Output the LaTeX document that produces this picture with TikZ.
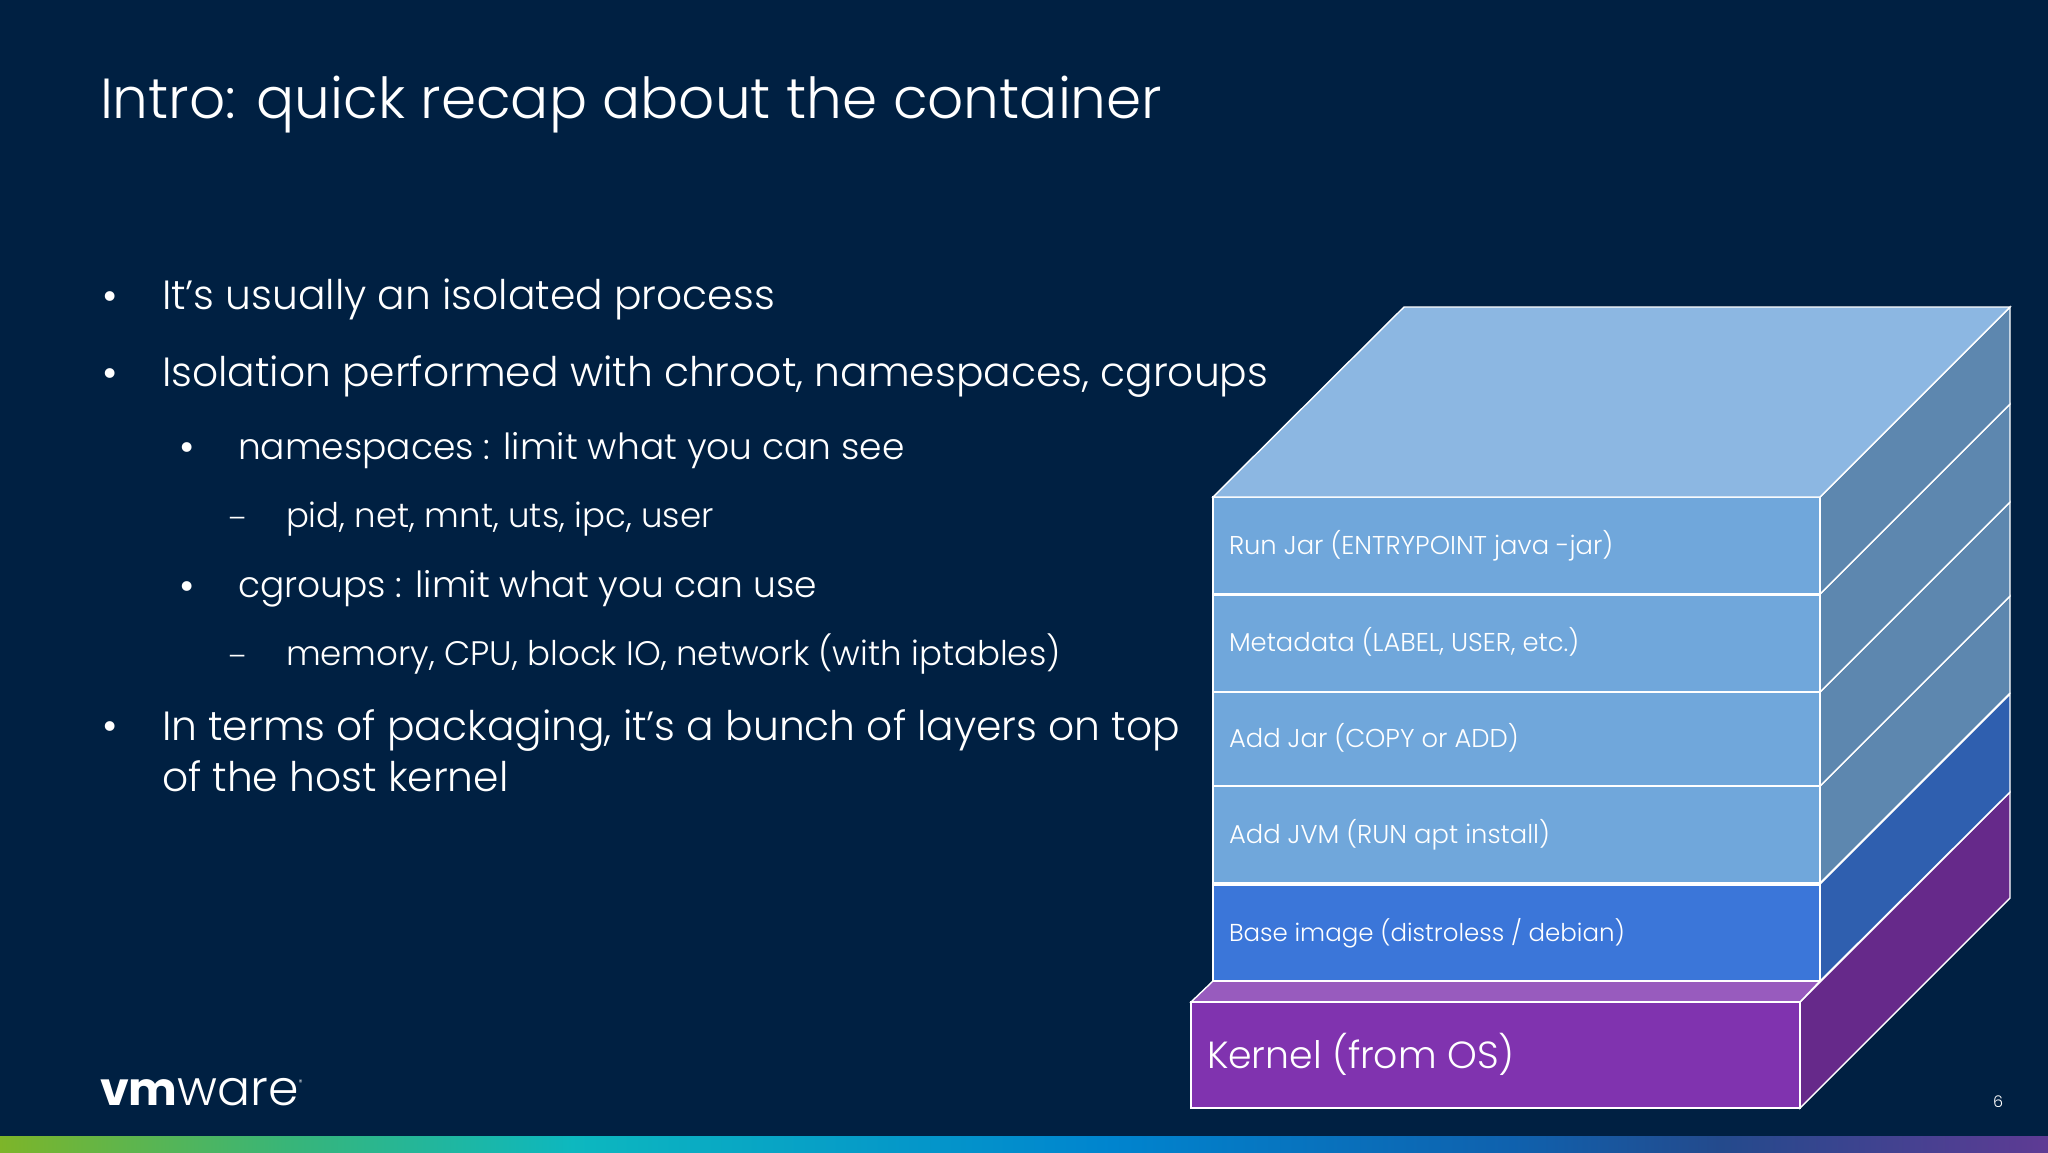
\documentclass[tikz,border=0pt]{standalone}
\usepackage{fontspec}
\setmainfont{Poppins}[UprightFont=* Light,BoldFont=* Bold]
\definecolor{bg}{HTML}{002042}
\pgfdeclarehorizontalshading{vmbar}{100bp}{
 rgb(0bp)=(0.49,0.71,0.16);
 rgb(25bp)=(0.49,0.71,0.16);
 rgb(32bp)=(0.22,0.71,0.47);
 rgb(39bp)=(0.05,0.72,0.75);
 rgb(52bp)=(0,0.52,0.81);
 rgb(62bp)=(0.06,0.38,0.68);
 rgb(67bp)=(0.14,0.29,0.55);
 rgb(75bp)=(0.37,0.23,0.58);
 rgb(100bp)=(0.37,0.23,0.58)}
\tikzset{
 x=1pt,y=-1pt,
 edge/.style={draw=white,line width=1.4pt,line join=miter},
 jar/.style={edge,fill={rgb,255:red,112;green,167;blue,219}},
 txt/.style={text=white,anchor=base west,inner sep=0pt,outer sep=0pt},
 t1/.style={txt,font=\fontsize{40.8}{46}\selectfont},
 t2/.style={txt,font=\fontsize{36}{44}\selectfont},
 t3/.style={txt,font=\fontsize{34}{40}\selectfont},
 lay/.style={txt,font=\fontsize{25.8}{30}\selectfont},
 bull/.style={text=white,anchor=center,inner sep=0pt,font=\fontsize{42}{50}\selectfont},
 endash/.style={txt,font=\fontsize{28}{34}\selectfont},
}
\begin{document}
\begin{tikzpicture}
\useasboundingbox (0,0) rectangle (2048,1152);
\fill[bg] (0,0) rectangle (2048,1152);
\shade[shading=vmbar] (0,1136) rectangle (2048,1152);
% text
\node[txt,font=\fontsize{56.5}{70}\selectfont] (title) at (100,118) {Intro: quick recap about the container};
\node[bull] (b1) at (110,301) {•};
\node[t1] (l1) at (162,309) {It’s usually an isolated process};
\node[bull] (b2) at (110,378) {•};
\node[t1] (l2) at (162,386) {Isolation performed with chroot, namespaces, cgroups};
\node[bull] (b3) at (187,452) {•};
\node[t2] (l3) at (238,459) {namespaces : limit what you can see};
\node[endash] (d1) at (228,528) {–};
\node[t3] (l4) at (286,527) {pid, net, mnt, uts, ipc, user};
\node[bull] (b4) at (187,591) {•};
\node[t2] (l5) at (238,597) {cgroups : limit what you can use};
\node[endash] (d2) at (228,666) {–};
\node[t3] (l6) at (286,665) {memory, CPU, block IO, network (with iptables)};
\node[bull] (b5) at (110,731) {•};
\node[t1] (l7) at (162,740) {In terms of packaging, it’s a bunch of layers on top};
\node[t1] (l8) at (162,791) {of the host kernel};
% kernel
\draw[edge,fill={rgb,255:red,102;green,41;blue,138}] (1800,1002) -- (2010,792) -- (2010,898) -- (1800,1108) -- cycle;
\draw[edge,fill={rgb,255:red,152;green,91;blue,190}] (1191,1002) -- (1213,981) -- (1820,981) -- (1800,1002) -- cycle;
\draw[edge,fill={rgb,255:red,128;green,51;blue,175}] (1191,1002) rectangle (1800,1108);
% base
\draw[edge,fill={rgb,255:red,47;green,95;blue,175}] (1820,884) -- (2010,694) -- (2010,792) -- (1820,981) -- cycle;
\draw[edge,fill={rgb,255:red,59;green,118;blue,217}] (1213,885) rectangle (1820,981);
% sides
\foreach \ya/\yb in {786/883,692/786,594/692,497/594}{
 \pgfmathtruncatemacro{\ua}{\ya-190}\pgfmathtruncatemacro{\ub}{\yb-190}
 \draw[edge,fill={rgb,255:red,93;green,135;blue,175}] (1820,\ya) -- (2010,\ua) -- (2010,\ub) -- (1820,\yb) -- cycle;
}
\draw[jar] (1213,786) rectangle (1820,883);
\draw[jar] (1213,692) rectangle (1820,786);
\draw[jar] (1213,595) rectangle (1820,692);
\draw[jar] (1213,497) rectangle (1820,593.5);
\draw[edge,fill={rgb,255:red,140;green,183;blue,226}] (1213,497) -- (1404,307) -- (2010,307) -- (1820,497) -- cycle;
\node[lay] (n1) at (1229,554) {Run Jar (ENTRYPOINT java -jar)};
\node[lay] (n2) at (1229,651) {Metadata (LABEL, USER, etc.)};
\node[lay] (n3) at (1229,747) {Add Jar (COPY or ADD)};
\node[lay] (n4) at (1229,843) {Add JVM (RUN apt install)};
\node[lay,font=\fontsize{24.5}{30}\selectfont] (n5) at (1229,941) {Base image (distroless / debian)};
\node[txt,font=\fontsize{37.8}{44}\selectfont] (n6) at (1207,1068) {Kernel (from OS)};
\node[txt,font=\fontsize{16}{20}\selectfont] (pg) at (1993,1107) {6};
\node[txt,font=\fontsize{49}{60}\selectfont] (logo) at (100,1105) {{\fontsize{46}{60}\selectfont\textbf{vm}}ware\raisebox{20pt}{\fontsize{8}{10}\selectfont ®}};
\end{tikzpicture}
\end{document}
